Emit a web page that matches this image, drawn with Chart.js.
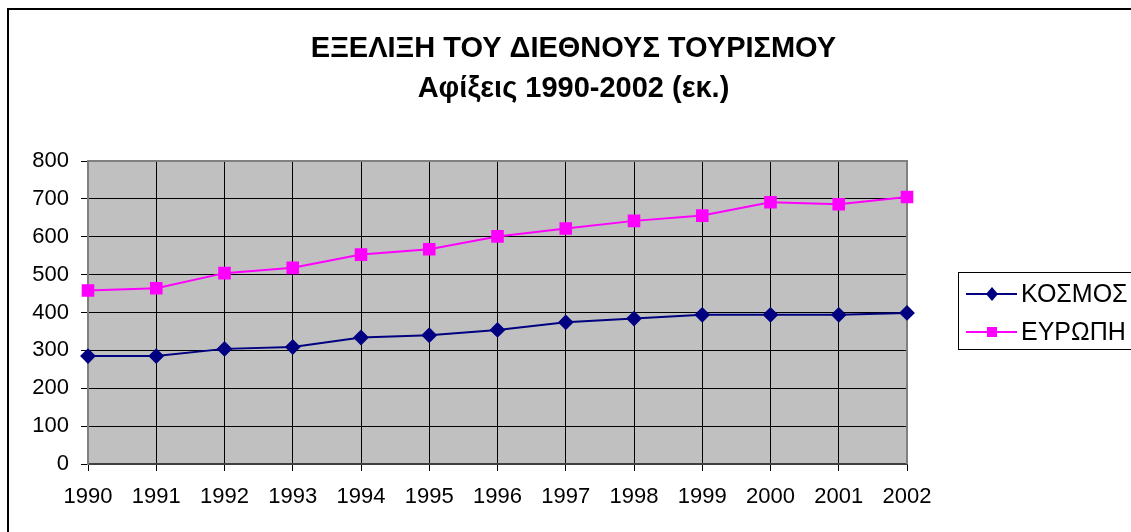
<!DOCTYPE html>
<html>
<head>
<meta charset="utf-8">
<script src="https://cdn.jsdelivr.net/npm/chart.js@4.4.1/dist/chart.umd.min.js"></script>
<style>
  html, body { margin: 0; padding: 0; background: #fff; }
  #wrap { width: 1131px; height: 532px; }
</style>
</head>
<body>
<div id="wrap"><canvas id="chart" width="1131" height="532"></canvas></div>
<script>
// ===== Data =====
const years = ["1990", "1991", "1992", "1993", "1994", "1995", "1996", "1997", "1998", "1999", "2000", "2001", "2002"];
const kosmos = [285, 285, 304, 309, 334, 340, 354, 374, 384, 394, 394, 394, 399];
const evropi = [458, 464, 504, 518, 553, 567, 601, 622, 642, 656, 691, 686, 705];
const titleLines = ["ΕΞΕΛΙΞΗ ΤΟΥ ΔΙΕΘΝΟΥΣ ΤΟΥΡΙΣΜΟΥ", "Αφίξεις 1990-2002 (εκ.)"];

const FONT = "'Liberation Sans', Arial, sans-serif";

// ===== Background, frame and plot fill =====
const frame = {
    id: "frame",
    beforeDraw(chart) {
        const c = chart.ctx, a = chart.chartArea;
        c.save();
        c.fillStyle = "#fff";
        c.fillRect(0, 0, chart.width, chart.height);
        c.strokeStyle = "#000";
        c.lineWidth = 2;
        c.strokeRect(8, 9, chart.width + 20, chart.height + 20);
        c.fillStyle = "#c0c0c0";
        c.fillRect(a.left, a.top, a.right - a.left, a.bottom - a.top);
        c.restore();
    },
    beforeDatasetsDraw(chart) {
        const c = chart.ctx, a = chart.chartArea;
        c.save();
        c.strokeStyle = "#808080";
        c.lineWidth = 2;
        c.beginPath();
        c.moveTo(a.left, a.top);
        c.lineTo(a.right, a.top);
        c.lineTo(a.right, a.bottom);
        c.stroke();
        c.restore();
    }
};

// ===== Legend box (Excel style) =====
const boxLegend = {
    id: "boxLegend",
    afterDraw(chart) {
        const c = chart.ctx;
        const x = 958, y = 272, w = 190, h = 77;
        c.save();
        c.fillStyle = "#fff";
        c.fillRect(x, y, w, h);
        c.strokeStyle = "#000";
        c.lineWidth = 1;
        c.strokeRect(x + 0.5, y + 0.5, w, h);
        chart.data.datasets.forEach((ds, i) => {
            const cy = y + 22 + i * 38;
            c.strokeStyle = ds.borderColor;
            c.lineWidth = 2;
            c.beginPath();
            c.moveTo(x + 8, cy);
            c.lineTo(x + 59, cy);
            c.stroke();
            c.fillStyle = ds.pointBackgroundColor;
            const mx = x + 34;
            if (ds.pointStyle === "rectRot") {
                c.beginPath();
                c.moveTo(mx, cy - 7);
                c.lineTo(mx + 6, cy);
                c.lineTo(mx, cy + 7);
                c.lineTo(mx - 6, cy);
                c.closePath();
                c.fill();
            } else {
                c.fillRect(mx - 5, cy - 5, 10, 10);
            }
            c.fillStyle = "#000";
            c.font = "25px " + FONT;
            c.textBaseline = "middle";
            c.fillText(ds.label, x + 63, cy + 1);
        });
        c.restore();
    }
};

new Chart(document.getElementById("chart"), {
    type: "line",
    data: {
        labels: years,
        datasets: [
            {
                label: "ΚΟΣΜΟΣ",
                data: kosmos,
                borderColor: "#000080",
                backgroundColor: "#000080",
                pointBackgroundColor: "#000080",
                pointBorderColor: "#000080",
                pointStyle: "rectRot",
                pointRadius: 6.5,
                borderWidth: 2,
                tension: 0
            },
            {
                label: "ΕΥΡΩΠΗ",
                data: evropi,
                borderColor: "#ff00ff",
                backgroundColor: "#ff00ff",
                pointBackgroundColor: "#ff00ff",
                pointBorderColor: "#ff00ff",
                pointStyle: "rect",
                pointRadius: 7.5,
                borderWidth: 2,
                tension: 0
            }
        ]
    },
    options: {
        responsive: false,
        animation: false,
        layout: { padding: { left: 16, right: 0, top: 0, bottom: 0 } },
        plugins: {
            legend: { display: false },
            tooltip: { enabled: false },
            title: {
                display: true,
                text: titleLines,
                color: "#000",
                font: { family: FONT, size: 29, weight: "bold", lineHeight: 1.38 },
                padding: { top: 29, bottom: 52 }
            }
        },
        scales: {
            x: {
                offset: false,
                grid: { color: "#000", lineWidth: 1, tickLength: 7, tickColor: "#000", drawOnChartArea: true },
                border: { color: "#404040", width: 2 },
                ticks: { color: "#000", font: { family: FONT, size: 22 }, padding: 13, maxRotation: 0, autoSkip: false },
                afterFit(s) { s.height = 68; }
            },
            y: {
                min: 0,
                max: 800,
                ticks: { stepSize: 100, color: "#000", font: { family: FONT, size: 22 }, padding: 12 },
                grid: { color: "#000", lineWidth: 1, tickLength: 7, tickColor: "#000" },
                border: { color: "#808080", width: 2 },
                afterFit(s) { s.width = 72; }
            },
            // empty right axis that reserves the legend space
            side: {
                position: "right",
                min: 0,
                max: 800,
                grid: { display: false },
                border: { display: false },
                ticks: { display: false },
                afterFit(s) { s.width = 224; }
            }
        }
    },
    plugins: [frame, boxLegend]
});
</script>
</body>
</html>
